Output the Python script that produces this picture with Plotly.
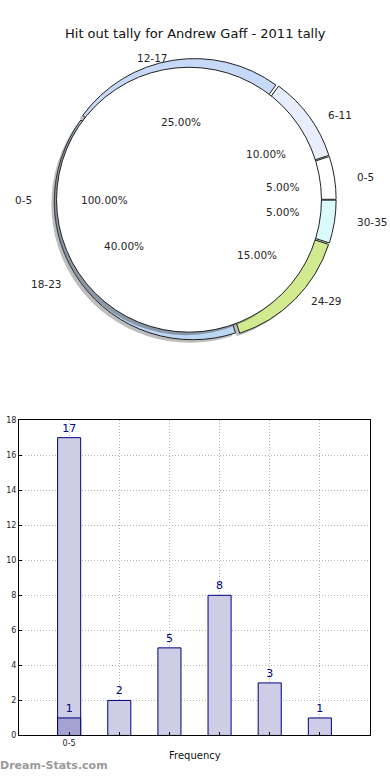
import math
import plotly.graph_objects as go

# ---------------- data ----------------
title_text = "Hit out tally for Andrew Gaff - 2011 tally"
inner_labels = ["0-5"]
inner_values = [20]
outer_labels = ["0-5", "6-11", "12-17", "18-23", "24-29", "30-35"]
outer_values = [1, 2, 5, 8, 3, 1]
outer_colors = ["#ffffff", "#e8eefb", "#c6d9f8", "#bcd6f6", "#d2ea8f", "#d9fbfb"]

bar_x = [0, 1, 2, 3, 4, 5]
bar_values = [17, 2, 5, 8, 3, 1]
bar_tick_text = ["0-5", "", "", "", "", ""]
overlay_x = [0]
overlay_values = [1]

W, H = 390, 780
FONT = "DejaVu Sans"
TXT = "#262626"

# ---------------- pie geometry (pixels) ----------------
cx, cy = 195, 198          # outer pie centre
R = 140                    # outer pie radius
pull = 0.02
icx, icy = 189, 198        # inner (exploded) pie centre
iR = 134
# reference ellipse used for text placement
rx, ry = 147, 132
irx, iry = 141, 128

# plotly counterclockwise pies end their first slice at `rotation`;
# start the first slice at 3 o'clock instead
outer_rot = 90 - 360 * outer_values[0] / sum(outer_values)


def dom(cxp, cyp, r):
    return dict(x=[(cxp - r) / W, (cxp + r) / W],
                y=[1 - (cyp + r) / H, 1 - (cyp - r) / H])


fig = go.Figure()

sh = 3  # shadow offset
# shadow of outer pie
fig.add_trace(go.Pie(
    labels=outer_labels, values=outer_values, sort=False,
    direction="counterclockwise", rotation=outer_rot,
    pull=[pull] * len(outer_values),
    domain=dom(cx - sh, cy + sh, R * (1 + pull)),
    marker=dict(colors=["rgba(90,90,90,0.4)"] * len(outer_values),
                line=dict(width=0)),
    textinfo="none", hoverinfo="skip", showlegend=False))
# outer pie
fig.add_trace(go.Pie(
    labels=outer_labels, values=outer_values, sort=False,
    direction="counterclockwise", rotation=outer_rot,
    pull=[pull] * len(outer_values),
    domain=dom(cx, cy, R * (1 + pull)),
    marker=dict(colors=outer_colors, line=dict(color="#222222", width=1)),
    textinfo="none", showlegend=False))
# shadow of inner pie
fig.add_trace(go.Pie(
    labels=inner_labels, values=inner_values, sort=False,
    domain=dom(icx - sh, icy + sh, iR),
    marker=dict(colors=["rgba(90,90,90,0.5)"], line=dict(width=0)),
    textinfo="none", hoverinfo="skip", showlegend=False))
# inner pie
fig.add_trace(go.Pie(
    labels=inner_labels, values=inner_values, sort=False,
    domain=dom(icx, icy, iR),
    marker=dict(colors=["#ffffff"], line=dict(color="#222222", width=1)),
    textinfo="none", showlegend=False))

annotations = []


def add_pie_text(labels, values, ccx, ccy, ex, ey):
    tot = sum(values)
    cum = 0
    for lab, v in zip(labels, values):
        th = math.radians(360 * (cum + v / 2) / tot)
        cum += v
        c, s = math.cos(th), math.sin(th)
        lx = ccx + 1.1 * ex * c
        ly = ccy - 1.1 * ey * s
        annotations.append(dict(
            x=lx / W, y=1 - ly / H, xref="paper", yref="paper",
            text=lab, showarrow=False,
            xanchor="left" if c > 1e-9 else "right", yanchor="middle",
            font=dict(family=FONT, size=10.5, color=TXT)))
        px = ccx + 0.6 * ex * c
        py = ccy - 0.6 * ey * s
        annotations.append(dict(
            x=px / W, y=1 - py / H, xref="paper", yref="paper",
            text=f"{100 * v / tot:.2f}%", showarrow=False,
            xanchor="center", yanchor="middle",
            font=dict(family=FONT, size=10.5, color=TXT)))


add_pie_text(outer_labels, outer_values, cx, cy, rx, ry)
add_pie_text(inner_labels, inner_values, icx, icy, irx, iry)

# ---------------- bar chart ----------------
fig.add_trace(go.Bar(
    x=bar_x, y=bar_values, width=0.46,
    marker=dict(color="#cdcde6", line=dict(color="#000080", width=1)),
    text=[str(v) for v in bar_values], textposition="outside",
    textfont=dict(family=FONT, size=11, color="#000080"),
    cliponaxis=False, showlegend=False, xaxis="x", yaxis="y"))
fig.add_trace(go.Bar(
    x=overlay_x, y=overlay_values, width=0.46,
    marker=dict(color="#a3a3d0", line=dict(color="#000080", width=1)),
    text=[str(v) for v in overlay_values], textposition="outside",
    textfont=dict(family=FONT, size=11, color="#000080"),
    cliponaxis=False, showlegend=False, xaxis="x", yaxis="y"))

px0, px1, py0, py1 = 19, 370, 421, 740
GRID = dict(showgrid=True, gridcolor="#b4b4b4", griddash="1px,2px", gridwidth=1)

fig.update_layout(
    width=W, height=H, margin=dict(l=0, r=0, t=0, b=0),
    paper_bgcolor="white", plot_bgcolor="white",
    barmode="overlay",
    font=dict(family=FONT, color=TXT),
    xaxis=dict(domain=[px0 / W, px1 / W], range=[-1, 6],
               tickvals=bar_x, ticktext=bar_tick_text,
               tickfont=dict(family=FONT, size=8, color="#222"),
               showline=True, mirror=True, linecolor="black", linewidth=1,
               ticks="inside", ticklen=3, tickcolor="black",
               zeroline=False, fixedrange=True, **GRID),
    yaxis=dict(domain=[1 - py1 / H, 1 - py0 / H], range=[0, 18], dtick=2,
               tickfont=dict(family=FONT, size=8, color="#222"),
               showline=True, mirror=True, linecolor="black", linewidth=1,
               ticks="inside", ticklen=3, tickcolor="black",
               zeroline=False, fixedrange=True, **GRID),
)

annotations += [
    dict(x=0.5, y=1 - 30 / H, xref="paper", yref="paper", text=title_text,
         showarrow=False, xanchor="center", yanchor="middle",
         font=dict(family=FONT, size=13, color="#111")),
    dict(x=(px0 + px1) / 2 / W, y=1 - 760 / H, xref="paper", yref="paper",
         text="Frequency", showarrow=False, xanchor="center", yanchor="middle",
         font=dict(family=FONT, size=10, color="#111")),
    dict(x=0, y=1 - (py0 + py1) / 2 / H, xref="paper", yref="paper",
         text="Total Hit Outs", textangle=-90, showarrow=False,
         xanchor="center", yanchor="middle", xshift=-4,
         font=dict(family=FONT, size=10, color="#111")),
    dict(x=0, y=1 - 770 / H, xref="paper", yref="paper",
         text="<b>Dream-Stats.com</b>", showarrow=False,
         xanchor="left", yanchor="middle", xshift=-2,
         font=dict(family=FONT, size=11, color="#9a9a9a")),
]
fig.update_layout(annotations=annotations)

fig.write_html(
    "out.html",
    config={"displayModeBar": False},
    post_script="document.body.style.margin='0';document.body.style.overflow='hidden';",
)
